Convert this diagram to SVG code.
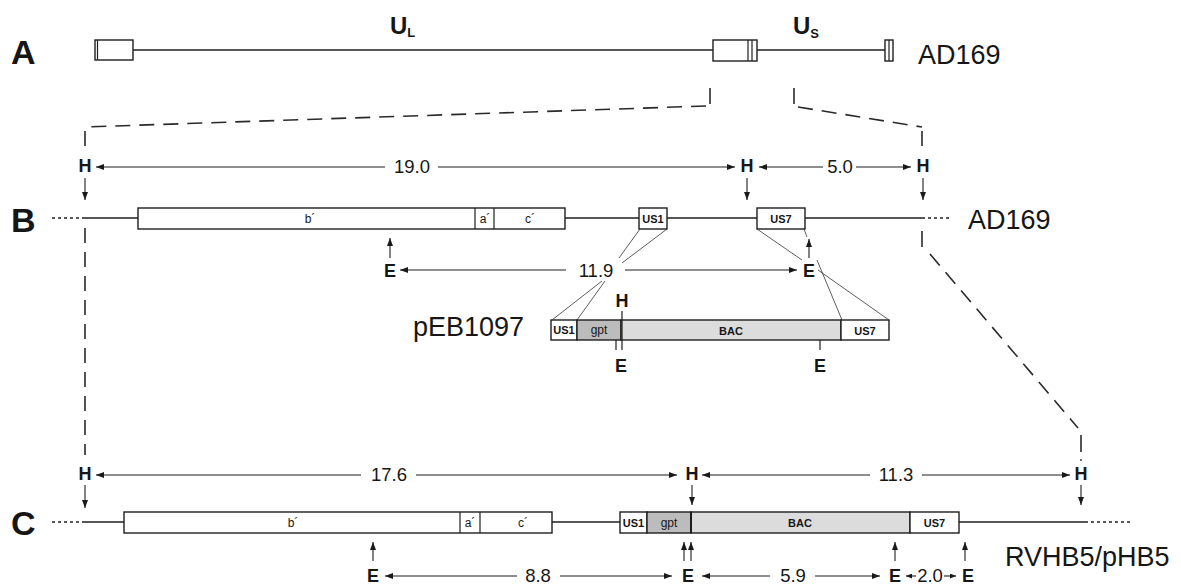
<svg xmlns="http://www.w3.org/2000/svg" width="1181" height="588" viewBox="0 0 1181 588">
<defs>
<marker id="ah" viewBox="0 0 8 6" refX="8" refY="3" markerWidth="8" markerHeight="6" markerUnits="userSpaceOnUse" orient="auto-start-reverse"><path d="M0,0 L8,3 L0,6 z" fill="#1a1a1a"/></marker>
<marker id="ahs" viewBox="0 0 6 5" refX="6" refY="2.5" markerWidth="6" markerHeight="5" markerUnits="userSpaceOnUse" orient="auto-start-reverse"><path d="M0,0 L6,2.5 L0,5 z" fill="#1a1a1a"/></marker>
</defs>
<style>
text{font-family:"Liberation Sans",Arial,sans-serif;fill:#161616}
.ln{stroke:#1e1e1e;stroke-width:1.5;fill:none}
.bx{fill:#fff;stroke:#1e1e1e;stroke-width:1.4}
.gpt{fill:#bcbcbc;stroke:#1e1e1e;stroke-width:1.4}
.bac{fill:#dcdcdc;stroke:#1e1e1e;stroke-width:1.4}
.dv{stroke:#1e1e1e;stroke-width:1.2}
.thin{stroke:#333;stroke-width:0.8;fill:none}
.dash{stroke:#2a2a2a;stroke-width:1.6;fill:none;stroke-dasharray:15 9}
.tick{stroke:#2a2a2a;stroke-width:1.6}
.dot{stroke:#222;stroke-width:1.4;stroke-dasharray:3 3}
.arr{stroke:#1e1e1e;stroke-width:1.1;fill:none;marker-end:url(#ah)}
.arrs{stroke:#1e1e1e;stroke-width:1.1;fill:none;marker-end:url(#ahs)}
.big{font-weight:bold;font-size:34px}
.name{font-size:27px}
.num{font-size:18.5px;text-anchor:middle}
.he{font-weight:bold;font-size:18px;text-anchor:middle}
.sm{font-size:12px;text-anchor:middle}
.smb{font-size:11px;font-weight:bold;text-anchor:middle}
.u{font-weight:bold;font-size:24px}
</style>

<g id="panel-labels">
<text class="big" x="11" y="64">A</text>
<text class="big" x="11" y="232">B</text>
<text class="big" x="11" y="535">C</text>
</g>

<g id="genome-A">
<rect class="bx" x="95" y="40" width="38" height="20"/>
<line class="dv" x1="97.5" y1="40" x2="97.5" y2="60"/>
<line class="ln" x1="133" y1="50" x2="713" y2="50"/>
<rect class="bx" x="713" y="40" width="44" height="21"/>
<line class="dv" x1="748" y1="40" x2="748" y2="61"/>
<line class="dv" x1="752" y1="40" x2="752" y2="61"/>
<line class="ln" x1="757" y1="50" x2="885" y2="50"/>
<rect class="bx" x="885" y="40" width="8" height="21"/>
<line class="dv" x1="889" y1="40" x2="889" y2="61"/>
<text class="u" x="390" y="34">U<tspan font-size="13" dy="3">L</tspan></text>
<text class="u" x="793" y="34">U<tspan font-size="13" dy="4">S</tspan></text>
<text class="name" x="918" y="64">AD169</text>
</g>

<g id="projection">
<line class="tick" x1="710" y1="88" x2="710" y2="104"/>
<line class="dash" x1="706" y1="106" x2="85" y2="127"/>
<line class="dash" x1="85" y1="131" x2="85" y2="153"/>
<line class="dash" x1="85" y1="228" x2="85" y2="455"/>
<line class="tick" x1="794" y1="88" x2="794" y2="104"/>
<line class="dash" x1="798" y1="107" x2="922" y2="127"/>
<line class="dash" x1="922" y1="131" x2="922" y2="153"/>
<line class="tick" x1="922" y1="231" x2="922" y2="247"/>
<line class="dash" x1="930" y1="254" x2="1078" y2="428"/>
<line class="tick" x1="1081" y1="435" x2="1081" y2="452"/>
<circle cx="1081" cy="460" r="0.9" fill="#2a2a2a"/>
</g>

<g id="genome-B">
<line class="dot" x1="52" y1="218" x2="82" y2="218"/>
<line class="ln" x1="82" y1="218" x2="138" y2="218"/>
<rect class="bx" x="138" y="208" width="427" height="21"/>
<line class="dv" x1="475" y1="208" x2="475" y2="229"/>
<line class="dv" x1="494" y1="208" x2="494" y2="229"/>
<text class="sm" x="310" y="223">b´</text>
<text class="sm" x="485" y="223">a´</text>
<text class="sm" x="530" y="223">c´</text>
<line class="ln" x1="565" y1="218" x2="639" y2="218"/>
<rect class="bx" x="639" y="208" width="28" height="21"/>
<text class="smb" x="653" y="222.5">US1</text>
<line class="ln" x1="667" y1="218" x2="757" y2="218"/>
<rect class="bx" x="757" y="208" width="48" height="21"/>
<text class="smb" x="781" y="222.5">US7</text>
<line class="ln" x1="805" y1="218" x2="922" y2="218"/>
<line class="dot" x1="922" y1="218" x2="950" y2="218"/>
<text class="name" x="968" y="229">AD169</text>
</g>

<g id="sites-B">
<text class="he" x="85" y="172">H</text>
<text class="he" x="747" y="172">H</text>
<text class="he" x="923" y="172">H</text>
<text class="num" x="412" y="173">19.0</text>
<text class="num" x="840" y="173">5.0</text>
<text class="he" x="390" y="277">E</text>
<text class="he" x="809" y="277">E</text>
<text class="num" x="596" y="277">11.9</text>
</g>

<g id="plasmid-pEB1097">
<text class="name" x="413" y="336">pEB1097</text>
<rect class="bx" x="551" y="320" width="26" height="20"/>
<rect class="gpt" x="577" y="320" width="44" height="20"/>
<rect class="bac" x="621" y="320" width="220" height="20"/>
<rect class="bx" x="841" y="320" width="48" height="20"/>
<text class="smb" x="564" y="334">US1</text>
<text class="sm" x="599" y="334">gpt</text>
<text class="smb" x="731" y="334.5" font-size="12">BAC</text>
<text class="smb" x="865" y="334.5">US7</text>
<line class="dv" x1="622" y1="311" x2="622" y2="350"/>
<line class="dv" x1="616" y1="340" x2="616" y2="350"/>
<line class="dv" x1="820" y1="340" x2="820" y2="350"/>
<text class="he" x="622" y="307">H</text>
<text class="he" x="621" y="372">E</text>
<text class="he" x="820" y="372">E</text>
</g>

<g id="genome-C">
<line class="dot" x1="52" y1="522" x2="82" y2="522"/>
<line class="ln" x1="82" y1="522" x2="124" y2="522"/>
<rect class="bx" x="124" y="512" width="428" height="21"/>
<line class="dv" x1="460" y1="512" x2="460" y2="533"/>
<line class="dv" x1="480" y1="512" x2="480" y2="533"/>
<text class="sm" x="293" y="527">b´</text>
<text class="sm" x="470" y="527">a´</text>
<text class="sm" x="523" y="527">c´</text>
<line class="ln" x1="552" y1="522" x2="620" y2="522"/>
<rect class="bx" x="620" y="512" width="27" height="21"/>
<rect class="gpt" x="647" y="512" width="44" height="21"/>
<rect class="bac" x="691" y="512" width="219" height="21"/>
<rect class="bx" x="910" y="512" width="49" height="21"/>
<line x1="691" y1="512" x2="691" y2="533" stroke="#1e1e1e" stroke-width="2"/>
<text class="smb" x="633.5" y="526.5">US1</text>
<text class="sm" x="669" y="526.5">gpt</text>
<text class="smb" x="800" y="527" font-size="12">BAC</text>
<text class="smb" x="934.5" y="527">US7</text>
<line class="ln" x1="959" y1="522" x2="1085" y2="522"/>
<line class="dot" x1="1085" y1="522" x2="1131" y2="522"/>
<text class="name" x="1005" y="566">RVHB5/pHB5</text>
</g>

<g id="sites-C">
<text class="he" x="85" y="480">H</text>
<text class="he" x="692" y="480">H</text>
<text class="he" x="1081" y="480">H</text>
<text class="num" x="389" y="481">17.6</text>
<text class="num" x="896" y="481">11.3</text>
<text class="he" x="373" y="582">E</text>
<text class="he" x="688" y="582">E</text>
<text class="he" x="895" y="582">E</text>
<text class="he" x="968" y="582">E</text>
<text class="num" x="538" y="582">8.8</text>
<text class="num" x="793" y="582">5.9</text>
<text class="num" x="930" y="582" font-size="17">2.0</text>
</g>

<g id="connectors">
<line class="arr" x1="385" y1="167" x2="96" y2="167"/>
<line class="arr" x1="438" y1="167" x2="735" y2="167"/>
<line class="arr" x1="823" y1="167" x2="759" y2="167"/>
<line class="arr" x1="856" y1="167" x2="911" y2="167"/>
<line class="arr" x1="85" y1="178" x2="85" y2="200"/>
<line class="arr" x1="747" y1="178" x2="747" y2="200"/>
<line class="arr" x1="923" y1="178" x2="923" y2="200"/>
<line class="arr" x1="566" y1="270" x2="400" y2="270"/>
<line class="arr" x1="625" y1="270" x2="797" y2="270"/>
<line class="arr" x1="390" y1="258" x2="390" y2="238"/>
<line class="arr" x1="809" y1="258" x2="809" y2="239"/>
<line class="thin" x1="640" y1="229" x2="619" y2="258"/>
<line class="thin" x1="667" y1="229" x2="622" y2="263"/>
<line class="thin" x1="602" y1="281" x2="552" y2="320"/>
<line class="thin" x1="605" y1="281" x2="577" y2="320"/>
<line class="thin" x1="757" y1="229" x2="802" y2="260"/>
<line class="thin" x1="804" y1="229" x2="807" y2="237"/>
<line class="thin" x1="817" y1="260" x2="842" y2="320"/>
<line class="thin" x1="818" y1="270" x2="889" y2="320"/>
<line class="arr" x1="361" y1="475" x2="96" y2="475"/>
<line class="arr" x1="416" y1="475" x2="677" y2="475"/>
<line class="arr" x1="870" y1="475" x2="702" y2="475"/>
<line class="arr" x1="922" y1="475" x2="1070" y2="475"/>
<line class="arr" x1="85" y1="485" x2="85" y2="508"/>
<line class="arr" x1="692" y1="485" x2="692" y2="505"/>
<line class="arr" x1="1081" y1="485" x2="1081" y2="505"/>
<line class="arr" x1="517" y1="576" x2="385" y2="576"/>
<line class="arr" x1="560" y1="576" x2="672" y2="576"/>
<line class="arr" x1="770" y1="576" x2="702" y2="576"/>
<line class="arr" x1="815" y1="576" x2="880" y2="576"/>
<line class="arrs" x1="916" y1="576" x2="906" y2="576"/>
<line class="arrs" x1="944" y1="576" x2="956" y2="576"/>
<line class="arr" x1="373" y1="561" x2="373" y2="542"/>
<line class="arr" x1="684" y1="561" x2="684" y2="542"/>
<line class="arr" x1="691" y1="561" x2="691" y2="542"/>
<line class="arr" x1="895" y1="561" x2="895" y2="542"/>
<line class="arr" x1="965" y1="561" x2="965" y2="542"/>
</g>
</svg>
